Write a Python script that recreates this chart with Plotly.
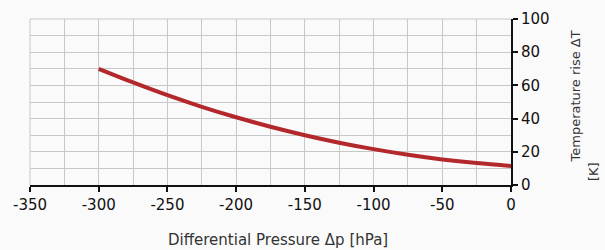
import plotly.graph_objects as go

pressure = [-300, -275, -250, -225, -200, -175, -150, -125, -100, -75, -50, -25, 0]
temp_rise = [70, 61.8, 54.1, 47.1, 40.8, 35.1, 30.0, 25.5, 21.6, 18.2, 15.4, 13.2, 11.5]

x_ticks = [-350, -300, -250, -200, -150, -100, -50, 0]
x_ticklabels = ["-350", "-300", "-250", "-200", "-150", "-100", "-50", "0"]
y_ticks = [0, 20, 40, 60, 80, 100]
y_ticklabels = ["0", "20", "40", "60", "80", "100"]

fig = go.Figure()
fig.add_trace(go.Scatter(x=pressure, y=temp_rise, mode="lines",
                         line=dict(color="#b3282a", width=4, shape="spline"),
                         showlegend=False))

font = "DejaVu Sans, Verdana, sans-serif"
grid = "#c8c8c8"
fig.update_layout(
    width=605, height=250,
    margin=dict(l=30, r=94, t=19, b=65),
    paper_bgcolor="#fafafa", plot_bgcolor="#fafafa",
    font=dict(family=font, size=15, color="#111"),
    xaxis=dict(range=[-350, 0], tickvals=x_ticks, ticktext=x_ticklabels,
               showgrid=True, gridcolor=grid, gridwidth=1,
               minor=dict(dtick=25, tick0=0, showgrid=True, gridcolor=grid, gridwidth=1),
               showline=True, linecolor="#111", linewidth=2,
               ticks="outside", ticklen=5, tickwidth=2, tickcolor="#111",
               zeroline=False, automargin=False),
    yaxis=dict(range=[0, 100], tickvals=y_ticks, ticktext=y_ticklabels, side="right",
               showgrid=True, gridcolor=grid, gridwidth=1,
               minor=dict(dtick=10, tick0=0, showgrid=True, gridcolor=grid, gridwidth=1),
               showline=True, linecolor="#111", linewidth=2,
               ticks="outside", ticklen=5, tickwidth=2, tickcolor="#111",
               zeroline=False, automargin=False),
    shapes=[dict(type="line", xref="paper", yref="paper", x0=0, x1=0, y0=0, y1=1,
                 line=dict(color=grid, width=1), layer="below"),
            dict(type="line", xref="paper", yref="paper", x0=0, x1=1, y0=1, y1=1,
                 line=dict(color=grid, width=1), layer="below")],
    annotations=[
        dict(text="Differential Pressure \u0394p [hPa]", xref="paper", yref="paper",
             x=(278 - 30) / 481, y=-(240 - 185) / 166, showarrow=False,
             xanchor="center", yanchor="middle", font=dict(size=15, color="#333")),
        dict(text="Temperature rise \u0394T", xref="paper", yref="paper",
             x=(575 - 30) / 481, y=(185 - 96.5) / 166, showarrow=False, textangle=-90,
             xanchor="center", yanchor="middle", font=dict(size=13, color="#333")),
        dict(text="[K]", xref="paper", yref="paper",
             x=(593 - 30) / 481, y=(185 - 172) / 166, showarrow=False, textangle=-90,
             xanchor="center", yanchor="middle", font=dict(size=13, color="#333")),
    ],
)
fig.write_html("out.html", config={"displayModeBar": False, "staticPlot": True},
               post_script="document.body.style.margin='0';document.body.style.background='#fafafa';")
